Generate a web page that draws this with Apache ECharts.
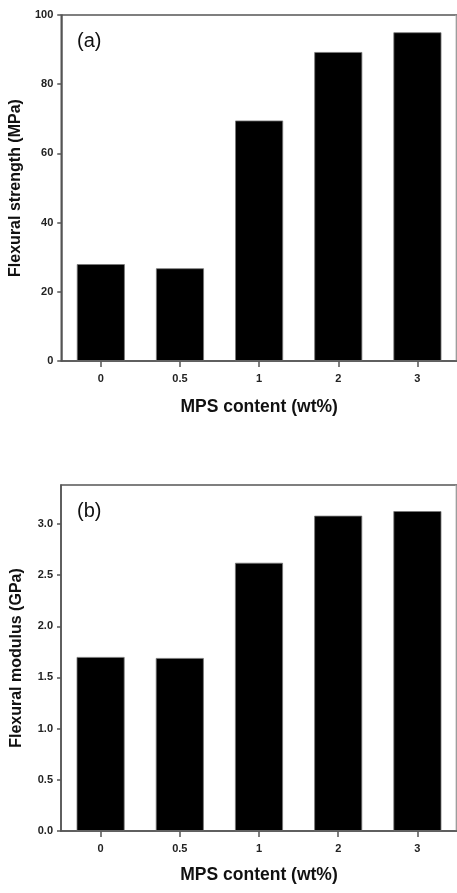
<!DOCTYPE html>
<html>
<head>
<meta charset="utf-8">
<script src="https://cdn.jsdelivr.net/npm/echarts@6/dist/echarts.min.js"></script>
<style>
html,body{margin:0;padding:0;background:#fff;}
#c{width:457px;height:893px;}
</style>
</head>
<body>
<div id="c"></div>
<script>
const categories = ['0', '0.5', '1', '2', '3'];
const strengthValues = [28, 26.8, 69.5, 89.3, 95.0];
const modulusValues = [1.70, 1.69, 2.62, 3.08, 3.125];
const strengthTicks = [0, 20, 40, 60, 80, 100];
const modulusTicks = [0, 0.5, 1.0, 1.5, 2.0, 2.5, 3.0];
const xTitle = 'MPS content (wt%)';
const yTitleA = 'Flexural strength (MPa)';
const yTitleB = 'Flexural modulus (GPa)';

const FONT = '"Liberation Sans", Arial, sans-serif';
const AXIS_COLOR = '#555';

function xAxis(gridIndex, gap) {
  return {
    type: 'category', gridIndex, data: categories,
    axisLine: {show: true, lineStyle: {color: AXIS_COLOR, width: 1.5}},
    axisTick: {show: true, alignWithLabel: true, length: 6, lineStyle: {color: AXIS_COLOR, width: 1.5}},
    axisLabel: {fontFamily: FONT, fontWeight: 'bold', fontSize: 11, color: '#222', margin: 12},
    name: xTitle, nameLocation: 'middle', nameGap: gap,
    nameTextStyle: {fontFamily: FONT, fontWeight: 'bold', fontSize: 17.5, color: '#111'}
  };
}
function yAxis(gridIndex, max, ticks, fmt, title) {
  return {
    type: 'value', gridIndex, min: 0, max: max,
    splitLine: {show: false},
    axisLine: {show: true, lineStyle: {color: AXIS_COLOR, width: 1.5}},
    axisTick: {show: true, length: 4, inside: false, customValues: ticks, lineStyle: {color: AXIS_COLOR, width: 1.5}},
    axisLabel: {fontFamily: FONT, fontWeight: 'bold', fontSize: 11, color: '#222', margin: 8,
      customValues: ticks, formatter: fmt},
    name: title, nameLocation: 'middle', nameGap: 36,
    nameTextStyle: {fontFamily: FONT, fontWeight: 'bold', fontSize: 16, color: '#111'}
  };
}

const chart = echarts.init(document.getElementById('c'), null, {renderer: 'canvas'});
chart.setOption({
  backgroundColor: '#fff',
  animation: false,
  title: [
    {text: '(a)', left: 72, top: 26, textStyle: {fontFamily: FONT, fontWeight: 'normal', fontSize: 20, color: '#111'}},
    {text: '(b)', left: 72, top: 496, textStyle: {fontFamily: FONT, fontWeight: 'normal', fontSize: 20, color: '#111'}}
  ],
  grid: [
    {left: 61, right: -2, top: 15, height: 346, show: true, borderColor: AXIS_COLOR, borderWidth: 1.5, backgroundColor: 'transparent'},
    {left: 61, right: -2, top: 485, height: 346, show: true, borderColor: AXIS_COLOR, borderWidth: 1.5, backgroundColor: 'transparent'}
  ],
  graphic: [
    {type: 'line', shape: {x1: 456, y1: 15, x2: 456, y2: 361}, style: {stroke: '#bbb', lineWidth: 1}, silent: true},
    {type: 'line', shape: {x1: 456, y1: 485, x2: 456, y2: 831}, style: {stroke: '#bbb', lineWidth: 1}, silent: true}
  ],
  xAxis: [xAxis(0, 37), xAxis(1, 35)],
  yAxis: [
    yAxis(0, 100, strengthTicks, v => String(v), yTitleA),
    yAxis(1, 3.38, modulusTicks, v => Number(v).toFixed(1), yTitleB)
  ],
  series: [
    {type: 'bar', xAxisIndex: 0, yAxisIndex: 0, data: strengthValues, barWidth: 48,
      itemStyle: {color: '#000', borderColor: '#777', borderWidth: 0.8}},
    {type: 'bar', xAxisIndex: 1, yAxisIndex: 1, data: modulusValues, barWidth: 48,
      itemStyle: {color: '#000', borderColor: '#777', borderWidth: 0.8}}
  ]
});
</script>
</body>
</html>
